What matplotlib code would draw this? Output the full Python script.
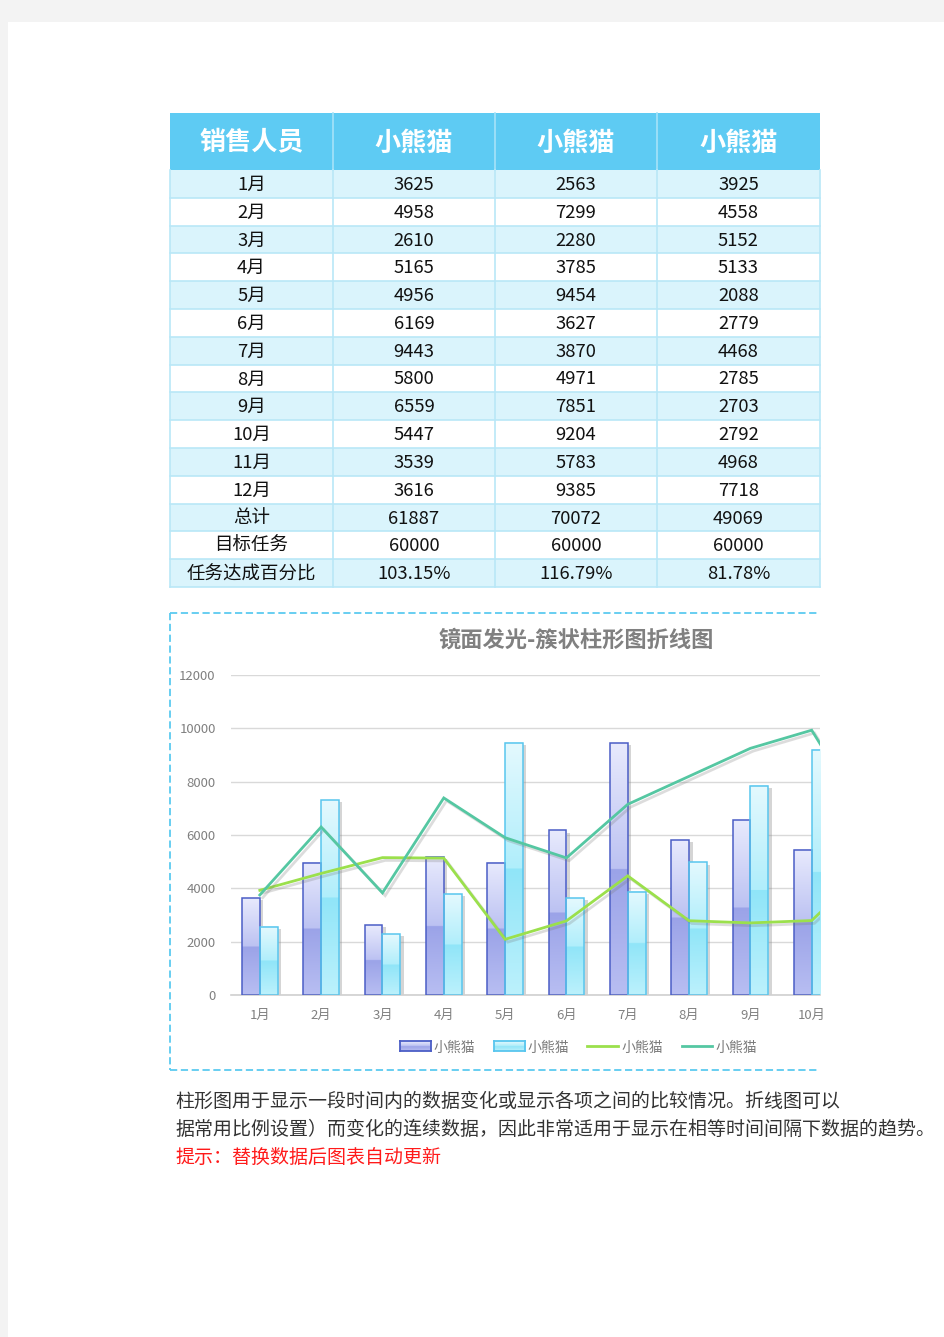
import numpy as np
import matplotlib
matplotlib.use("Agg")
import matplotlib.pyplot as plt
from matplotlib.patches import Rectangle
from matplotlib.lines import Line2D
import matplotlib.patheffects as pe
from matplotlib.colors import to_rgb

plt.rcParams['font.family'] = ['Noto Sans CJK SC', 'DejaVu Sans']

# ---------------- data ----------------
headers = ['销售人员', '小熊猫', '小熊猫', '小熊猫']
months = ['1月', '2月', '3月', '4月', '5月', '6月', '7月', '8月', '9月', '10月', '11月', '12月']
s1 = [3625, 4958, 2610, 5165, 4956, 6169, 9443, 5800, 6559, 5447, 3539, 3616]
s2 = [2563, 7299, 2280, 3785, 9454, 3627, 3870, 4971, 7851, 9204, 5783, 9385]
s3 = [3925, 4558, 5152, 5133, 2088, 2779, 4468, 2785, 2703, 2792, 4968, 7718]
s4 = [3750, 6300, 3830, 7390, 5900, 5140, 7150, 8200, 9250, 9930, 6200, 7200]
summary_labels = ['总计', '目标任务', '任务达成百分比']
totals = ['61887', '70072', '49069']
targets = ['60000', '60000', '60000']
percents = ['103.15%', '116.79%', '81.78%']
series_names = ['小熊猫', '小熊猫', '小熊猫', '小熊猫']
chart_title = '镜面发光-簇状柱形图折线图'
yticks = [0, 2000, 4000, 6000, 8000, 10000, 12000]
note1 = '柱形图用于显示一段时间内的数据变化或显示各项之间的比较情况。折线图可以'
note2 = '据常用比例设置）而变化的连续数据，因此非常适用于显示在相等时间间隔下数据的趋势。'
note3 = '提示：替换数据后图表自动更新'

W, H = 945, 1337
fig = plt.figure(figsize=(W / 100, H / 100), dpi=100)
fig.patch.set_facecolor('#f3f3f3')

def fx(x):
    return x / W

def fy(y):
    return 1 - y / H

# white page
fig.add_artist(Rectangle((fx(8), 0), 1 - fx(8), fy(22), transform=fig.transFigure,
                         facecolor='white', edgecolor='none', zorder=0))

# ---------------- table ----------------
col_edges = [170, 333, 495, 657, 820]
head_top, head_bot = 113, 170
row_h = (587 - 170) / 15.0
rows = []
for i, m in enumerate(months):
    rows.append([m, str(s1[i]), str(s2[i]), str(s3[i])])
rows.append([summary_labels[0]] + totals)
rows.append([summary_labels[1]] + targets)
rows.append([summary_labels[2]] + percents)

# header
fig.add_artist(Rectangle((fx(170), fy(head_bot)), fx(820) - fx(170), fy(head_top) - fy(head_bot),
                         transform=fig.transFigure, facecolor='#5ecbf3', edgecolor='none', zorder=1))
for j, h in enumerate(headers):
    cx = (col_edges[j] + col_edges[j + 1]) / 2
    fig.text(fx(cx), fy(143), h, ha='center', va='center',
             color='white', fontsize=18.8, fontweight='bold', zorder=3)
for xe in col_edges[1:-1]:
    fig.add_artist(Line2D([fx(xe), fx(xe)], [fy(head_top), fy(head_bot)], transform=fig.transFigure,
                          color='#a6e3f8', lw=1.2, zorder=2))

for i, r in enumerate(rows):
    y0 = head_bot + i * row_h
    y1 = y0 + row_h
    fc = '#daf4fc' if i % 2 == 0 else 'white'
    fig.add_artist(Rectangle((fx(170), fy(y1)), fx(820) - fx(170), fy(y0) - fy(y1),
                             transform=fig.transFigure, facecolor=fc, edgecolor='none', zorder=1))
    fig.add_artist(Line2D([fx(170), fx(820)], [fy(y1), fy(y1)], transform=fig.transFigure,
                          color='#b9e7f7', lw=1.2, zorder=2))
    for j, t in enumerate(r):
        cx = (col_edges[j] + col_edges[j + 1]) / 2
        fig.text(fx(cx), fy((y0 + y1) / 2 + 1), t, ha='center', va='center',
                 color='#111111', fontsize=13.3, zorder=3)
for xe in col_edges:
    fig.add_artist(Line2D([fx(xe), fx(xe)], [fy(head_bot), fy(587)], transform=fig.transFigure,
                          color='#b9e7f7', lw=1.2, zorder=2))

# ---------------- chart frame ----------------
dash_col = '#5ccaf0'
for (xa, ya, xb, yb) in [(170, 613, 820, 613), (170, 1070, 820, 1070), (170, 613, 170, 1070)]:
    fig.add_artist(Line2D([fx(xa), fx(xb)], [fy(ya), fy(yb)], transform=fig.transFigure,
                          color=dash_col, lw=1.3, linestyle=(0, (4, 2)), zorder=2))

fig.text(fx(576), fy(640), chart_title, ha='center', va='center', color='#808080',
         fontsize=16, fontweight='bold')

ax = fig.add_axes([fx(231), fy(995), fx(820) - fx(231), fy(675) - fy(995)])
ax.set_facecolor('none')

def gradient(top, mid_hi, mid_lo, bottom, n=200):
    top, mid_hi, mid_lo, bottom = map(np.array, map(to_rgb, (top, mid_hi, mid_lo, bottom)))
    half = n // 2
    t = np.linspace(0, 1, half)[:, None]
    upper = top * (1 - t) + mid_hi * t
    lower = mid_lo * (1 - t) + bottom * t
    return np.vstack([upper, lower])[:, None, :]

g1 = gradient('#e8eafd', '#bcc2f2', '#9ba3e8', '#b8bef2')
g2 = gradient('#e4f9fe', '#b0eefb', '#90e5f8', '#bcf1fc')
edge1, edge2 = '#4b5ec6', '#58c6ee'

bw = 0.29
x = np.arange(len(months))
for i in range(len(months)):
    for vals, off, g, ec in [(s1, -bw, g1, edge1), (s2, 0, g2, edge2)]:
        v = vals[i]
        x0 = x[i] + off
        sh = Rectangle((x0, 0), bw, v, facecolor='none', edgecolor='none', zorder=1,
                       path_effects=[pe.SimplePatchShadow(offset=(2.5, -1.5), shadow_rgbFace='#888888', alpha=0.35)])
        ax.add_patch(sh)
        ax.imshow(g, extent=(x0, x0 + bw, 0, v), aspect='auto', interpolation='bilinear', zorder=2)
        ax.add_patch(Rectangle((x0, 0), bw, v, facecolor='none', edgecolor=ec, lw=1.1, zorder=3))

shadow = [pe.SimpleLineShadow(offset=(2, -2), shadow_color='#777777', alpha=0.25), pe.Normal()]
ax.plot(x, s3, color='#9be04c', lw=2.0, zorder=4, path_effects=shadow, solid_joinstyle='miter')
ax.plot(x, s4, color='#55c7a2', lw=2.0, zorder=5, path_effects=shadow, solid_joinstyle='miter')

ax.set_yticks(yticks)
ax.set_yticklabels([str(t) for t in yticks])
ax.set_xticks(x)
ax.set_xticklabels(months)
ax.set_xlim(-0.47, (820 - 260) / 61.3)
ax.set_ylim(0, 12000)
ax.grid(axis='y', color='#d9d9d9', lw=1, zorder=0)
ax.set_axisbelow(True)
for s in ['top', 'right', 'left']:
    ax.spines[s].set_visible(False)
ax.spines['bottom'].set_color('#d0d0d0')
ax.spines['bottom'].set_linewidth(1.2)
ax.tick_params(axis='both', length=0, colors='#808080', labelsize=9.5)
ax.tick_params(axis='y', pad=11)
ax.tick_params(axis='x', pad=10)

# legend (manual)
ly = 1046
def leg_patch(xa, xb, g, ec):
    lax = fig.add_axes([fx(xa), fy(ly + 5), fx(xb) - fx(xa), fy(ly - 5) - fy(ly + 5)])
    lax.imshow(g, extent=(0, 1, 0, 1), aspect='auto', interpolation='bilinear')
    lax.set_xlim(0, 1); lax.set_ylim(0, 1)
    lax.set_xticks([]); lax.set_yticks([])
    for s in lax.spines.values():
        s.set_color(ec); s.set_linewidth(1.3)

leg_patch(400, 431, g1, edge1)
leg_patch(494, 525, g2, edge2)
fig.add_artist(Line2D([fx(587), fx(618)], [fy(ly), fy(ly)], transform=fig.transFigure, color='#9be04c', lw=2))
fig.add_artist(Line2D([fx(682), fx(712)], [fy(ly), fy(ly)], transform=fig.transFigure, color='#55c7a2', lw=2))
for xt, name in zip([434, 528, 622, 716], series_names):
    fig.text(fx(xt), fy(ly + 1.5), name, ha='left', va='center', color='#7a7a7a', fontsize=10)

# notes
fig.text(fx(175), fy(1101), note1, ha='left', va='center', color='#333333', fontsize=13.65)
fig.text(fx(175), fy(1129), note2, ha='left', va='center', color='#333333', fontsize=13.65)
fig.text(fx(175), fy(1157), note3, ha='left', va='center', color='#ff1a1a', fontsize=13.65)

fig.savefig('out.png', dpi=100, facecolor=fig.get_facecolor())
